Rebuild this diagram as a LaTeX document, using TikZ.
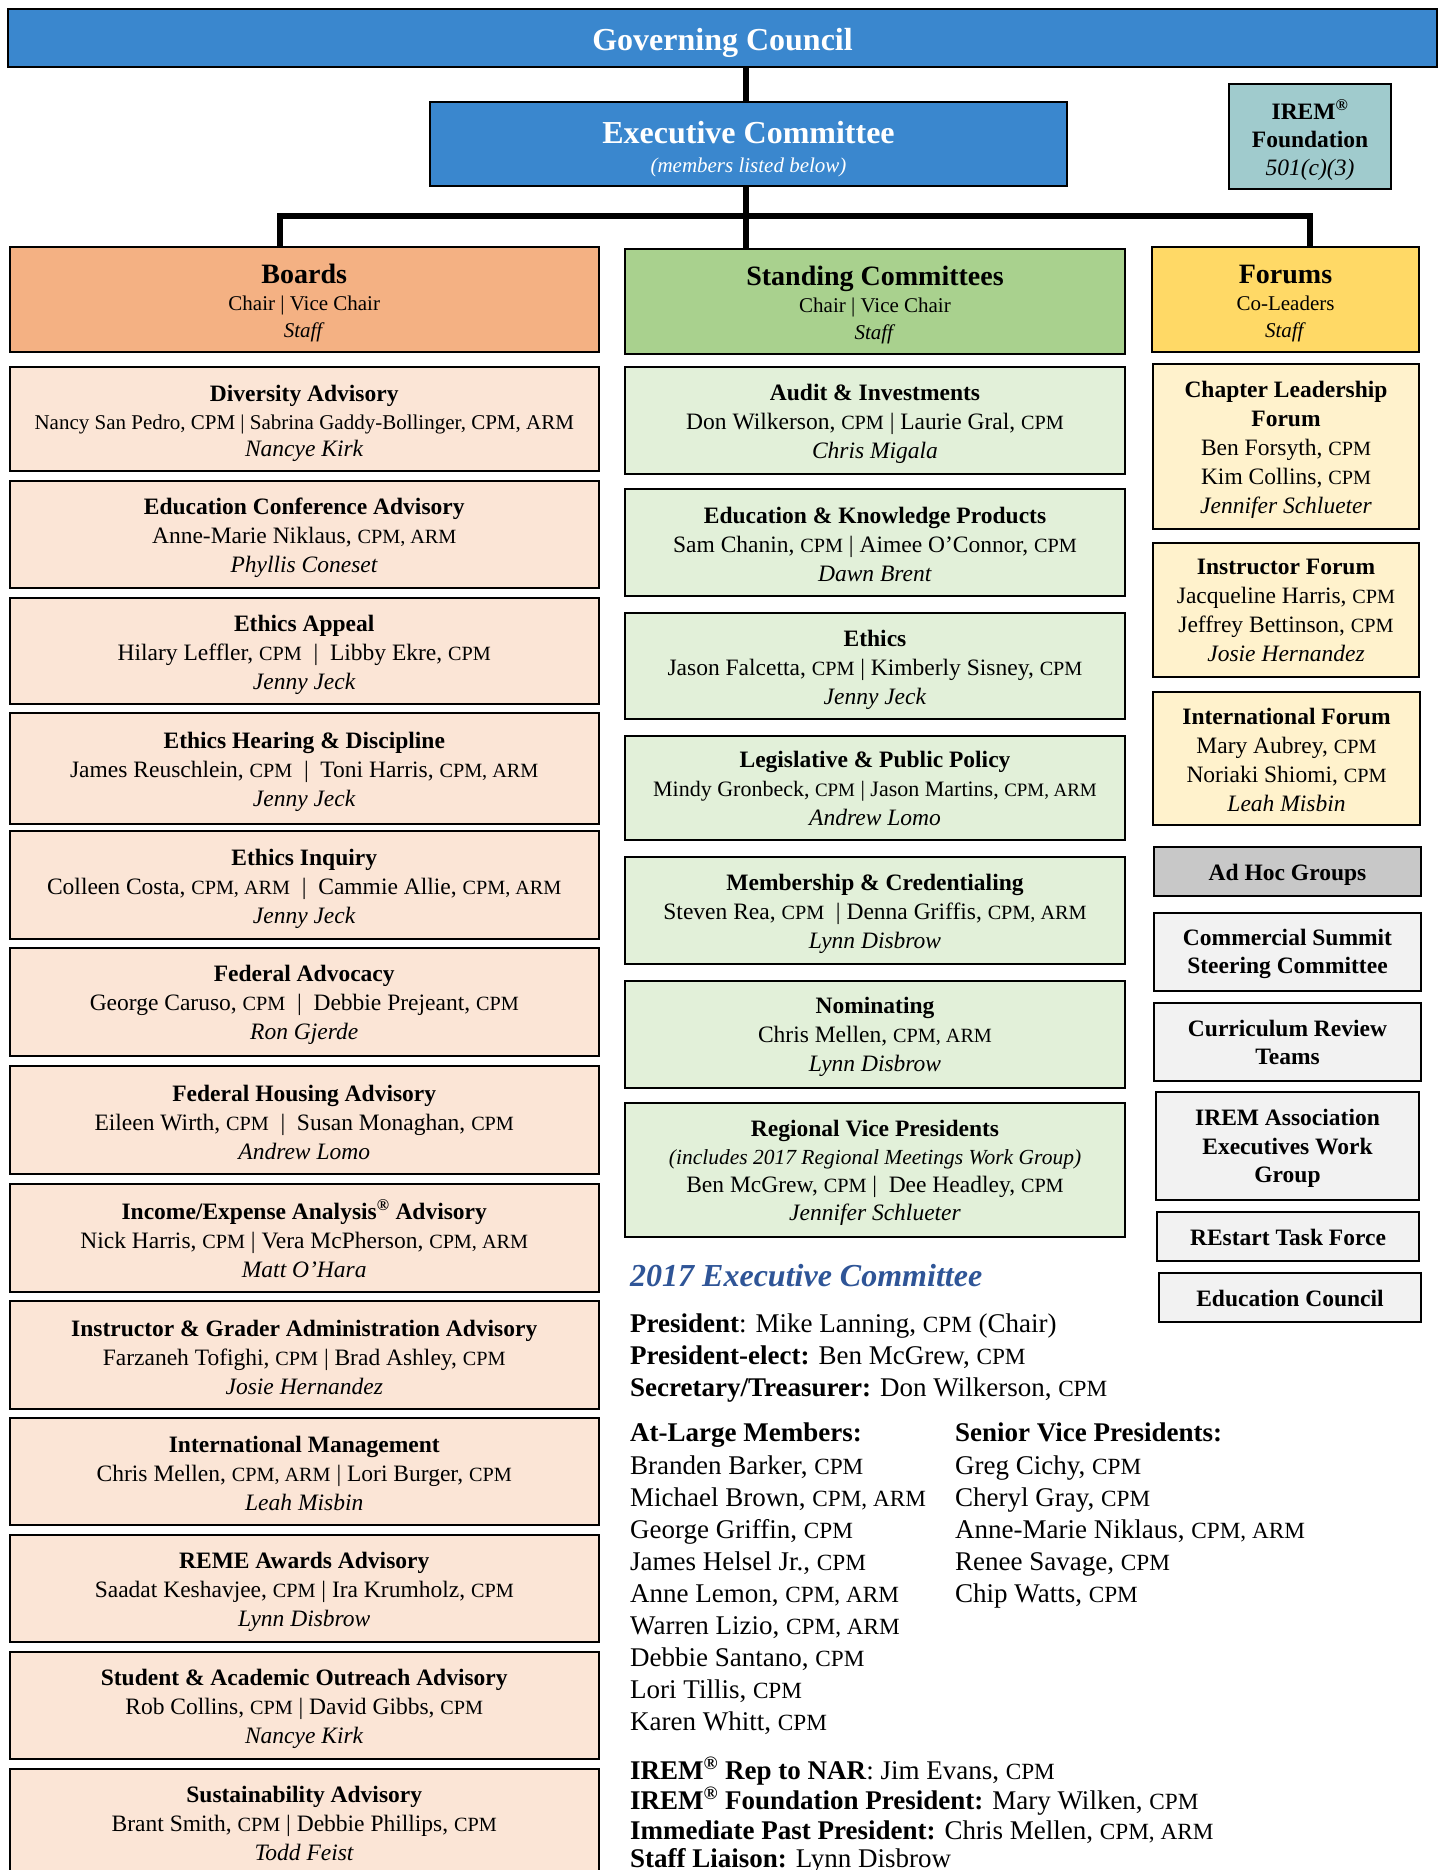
\documentclass[tikz,border=0pt]{standalone}
\usepackage{fontspec}
\setmainfont{Liberation Serif}
\makeatletter
\newcommand\lesser[1]{{\@tempdima=\f@size pt\relax\@tempdima=0.86\@tempdima\fontsize{\strip@pt\@tempdima}{\f@baselineskip}\selectfont #1}}
\makeatother
\newcommand\cpm{\lesser{CPM}}
\newcommand\cpma{\lesser{CPM, ARM}}
\newcommand\regm{\textsuperscript{®}}
\definecolor{gcblue}{RGB}{58,135,206}
\definecolor{iremc}{RGB}{160,203,205}
\definecolor{boardH}{RGB}{244,177,131}
\definecolor{boardL}{RGB}{251,229,214}
\definecolor{stH}{RGB}{169,209,142}
\definecolor{stL}{RGB}{226,240,217}
\definecolor{foH}{RGB}{255,217,102}
\definecolor{foL}{RGB}{255,242,204}
\definecolor{adH}{RGB}{200,200,200}
\definecolor{adL}{RGB}{242,242,242}
\definecolor{exblue}{RGB}{47,85,151}
% [text shift]{style}{name}{x1}{y1}{x2}{y2}{text}
\newcommand\mybox[8][3]{%
  \node[#2, minimum width={(#6-#4)*1pt}, minimum height={(#7-#5)*1pt}] (#3) at ({(#4+#6)/2},{(#5+#7)/2}) {};
  \node[#2, draw=none, fill=none, minimum width=0pt, minimum height=0pt] (#3t) at ([yshift={-(#1)*1pt}]#3.center) {#8};}
\tikzset{
  bx/.style={draw=black, line width=2pt, align=center, inner sep=0pt, text=black},
  topbox/.style={bx, fill=gcblue, text=white},
  bhead/.style={bx, fill=boardH, font=\fontsize{21}{27}\selectfont},
  shead/.style={bx, fill=stH, font=\fontsize{21}{27}\selectfont},
  fhead/.style={bx, fill=foH, font=\fontsize{21}{27}\selectfont},
  blist/.style={bx, fill=boardL, font=\fontsize{23.5}{29}\selectfont},
  slist/.style={bx, fill=stL, font=\fontsize{23.5}{29}\selectfont},
  flist/.style={bx, fill=foL, font=\fontsize{23.5}{29}\selectfont},
  adh/.style={bx, fill=adH, font=\bfseries\fontsize{23.5}{28.5}\selectfont},
  adl/.style={bx, fill=adL, font=\bfseries\fontsize{23.5}{28.5}\selectfont},
  conn/.style={line width=6pt, line join=miter, draw=black},
  exl/.style={anchor=base west, inner sep=0pt, font=\fontsize{27}{32}\selectfont},
}
\newcommand\htitle[1]{{\fontsize{28}{28}\selectfont\bfseries #1}}
\begin{document}
\begin{tikzpicture}[x=1pt,y=-1pt]
\path[use as bounding box, fill=white] (0,0) rectangle (1442,1870);
\clip (0,0) rectangle (1442,1870);

% top
\mybox[4.5]{topbox, font=\bfseries\fontsize{32}{32}\selectfont}{gc}{8}{9}{1437}{67}{Governing Council}
\mybox[5]{topbox, font=\fontsize{21}{29}\selectfont}{ec}{430}{102}{1067}{186}{{\fontsize{32}{32}\selectfont\bfseries Executive Committee}\\\textit{(members listed below)}}
\mybox[3.5]{bx, fill=iremc, font=\fontsize{23.5}{28}\selectfont}{irem}{1229}{84}{1391}{189}{\textbf{IREM\regm}\\\textbf{Foundation}\\\textit{501(c)(3)}}

% headers
\mybox[4]{bhead}{boards}{9.5}{247}{599}{352}{\htitle{Boards}\\Chair | Vice Chair\\\textit{Staff}}
\mybox[4]{shead}{sc}{625}{249}{1125}{354}{\htitle{Standing Committees}\\Chair | Vice Chair\\\textit{Staff}}
\mybox[4]{fhead}{forums}{1152}{247}{1419}{352}{\htitle{Forums}\\Co-Leaders\\\textit{Staff}}

% connectors
\coordinate (bl) at (280,216.5);
\coordinate (br) at (1310,216.5);
\coordinate (ecx) at (746,0);
\draw[conn] (gc.south -| ecx) -- (ec.north -| ecx);
\draw[conn] (ec.south -| ecx) -- (sc.north -| ecx);
\draw[conn] (bl |- boards.north) -- (bl) -- (br) -- (br |- forums.north);

% boards list
\mybox[4.5]{blist, font=\fontsize{23.5}{27.5}\selectfont}{b1}{9.5}{367}{599}{471}{\textbf{Diversity Advisory}\\{\fontsize{21}{21}\selectfont Nancy San Pedro, CPM | Sabrina Gaddy-Bollinger, CPM, ARM}\\\textit{Nancye Kirk}}
\mybox{blist}{b2}{9.5}{481}{599}{588}{\textbf{Education Conference Advisory}\\Anne-Marie Niklaus, \cpma\\\textit{Phyllis Coneset}}
\mybox[3.5]{blist}{b3}{9.5}{598}{599}{704}{\textbf{Ethics Appeal}\\Hilary Leffler, \cpm{}~~|~~Libby Ekre, \cpm\\\textit{Jenny Jeck}}
\mybox{blist}{b4}{9.5}{713}{599}{824}{\textbf{Ethics Hearing \& Discipline}\\James Reuschlein, \cpm{}~~|~~Toni Harris, \cpma\\\textit{Jenny Jeck}}
\mybox[3.5]{blist}{b5}{9.5}{831}{599}{939}{\textbf{Ethics Inquiry}\\Colleen Costa, \cpma{}~~|~~Cammie Allie, \cpma\\\textit{Jenny Jeck}}
\mybox{blist}{b6}{9.5}{948}{599}{1056}{\textbf{Federal Advocacy}\\George Caruso, \cpm{}~~|~~Debbie Prejeant, \cpm\\\textit{Ron Gjerde}}
\mybox[2]{blist}{b7}{9.5}{1066}{599}{1174}{\textbf{Federal Housing Advisory}\\Eileen Wirth, \cpm{}~~|~~Susan Monaghan, \cpm\\\textit{Andrew Lomo}}
\mybox[1]{blist}{b8}{9.5}{1184}{599}{1292}{\textbf{Income/Expense Analysis\regm{} Advisory}\\Nick Harris, \cpm{} | Vera McPherson, \cpma\\\textit{Matt O’Hara}}
\mybox[2.5]{blist}{b9}{9.5}{1301}{599}{1409}{\textbf{Instructor \& Grader Administration Advisory}\\Farzaneh Tofighi, \cpm{} | Brad Ashley, \cpm\\\textit{Josie Hernandez}}
\mybox[2]{blist}{b10}{9.5}{1418}{599}{1525}{\textbf{International Management}\\Chris Mellen, \cpma{} | Lori Burger, \cpm\\\textit{Leah Misbin}}
\mybox[3.5]{blist}{b11}{9.5}{1535}{599}{1642}{\textbf{REME Awards Advisory}\\Saadat Keshavjee, \cpm{} | Ira Krumholz, \cpm\\\textit{Lynn Disbrow}}
\mybox{blist}{b12}{9.5}{1652}{599}{1759}{\textbf{Student \& Academic Outreach Advisory}\\Rob Collins, \cpm{} | David Gibbs, \cpm\\\textit{Nancye Kirk}}
\mybox[-2]{blist}{b13}{9.5}{1769}{599}{1882}{\textbf{Sustainability Advisory}\\Brant Smith, \cpm{} | Debbie Phillips, \cpm\\\textit{Todd Feist}}

% standing committees list
\mybox{slist}{s1}{625}{367}{1125}{474}{\textbf{Audit \& Investments}\\Don Wilkerson, \cpm{} | Laurie Gral, \cpm\\\textit{Chris Migala}}
\mybox[2]{slist}{s2}{625}{489}{1125}{596}{\textbf{Education \& Knowledge Products}\\Sam Chanin, \cpm{} | Aimee O’Connor, \cpm\\\textit{Dawn Brent}}
\mybox[3.5]{slist}{s3}{625}{613}{1125}{719}{\textbf{Ethics}\\Jason Falcetta, \cpm{} | Kimberly Sisney, \cpm\\\textit{Jenny Jeck}}
\mybox[0.5]{slist}{s4}{625}{736}{1125}{840}{\textbf{Legislative \& Public Policy}\\{\fontsize{22}{22}\selectfont Mindy Gronbeck, \cpm{} | Jason Martins, \cpma}\\\textit{Andrew Lomo}}
\mybox{slist}{s5}{625}{857}{1125}{964}{\textbf{Membership \& Credentialing}\\Steven Rea, \cpm{}~~|~Denna Griffis, \cpma\\\textit{Lynn Disbrow}}
\mybox[2.5]{slist}{s6}{625}{981}{1125}{1088}{\textbf{Nominating}\\Chris Mellen, \cpma\\\textit{Lynn Disbrow}}
\mybox{slist, font=\fontsize{23.5}{28}\selectfont}{s7}{625}{1103}{1125}{1237}{\textbf{Regional Vice Presidents}\\{\fontsize{21.5}{21.5}\selectfont\itshape (includes 2017 Regional Meetings Work Group)}\\Ben McGrew, \cpm{} |~~Dee Headley, \cpm\\\textit{Jennifer Schlueter}}

% forums list
\mybox{flist}{f1}{1153}{364}{1419}{529}{\textbf{Chapter Leadership}\\\textbf{Forum}\\Ben Forsyth, \cpm\\Kim Collins, \cpm\\\textit{Jennifer Schlueter}}
\mybox[0.5]{flist}{f2}{1153}{543}{1419}{677}{\textbf{Instructor Forum}\\Jacqueline Harris, \cpm\\Jeffrey Bettinson, \cpm\\\textit{Josie Hernandez}}
\mybox[1]{flist}{f3}{1153}{692}{1420}{825}{\textbf{International Forum}\\Mary Aubrey, \cpm\\Noriaki Shiomi, \cpm\\\textit{Leah Misbin}}

% ad hoc
\mybox{adh}{a0}{1154}{847}{1421}{896}{Ad Hoc Groups}
\mybox[2]{adl}{a1}{1154}{913}{1421}{991}{Commercial Summit\\Steering Committee}
\mybox[0.5]{adl}{a2}{1154}{1003}{1421}{1081}{Curriculum Review\\Teams}
\mybox[2.5]{adl}{a3}{1156}{1092}{1419}{1200}{IREM Association\\Executives Work\\Group}
\mybox[1]{adl}{a4}{1157}{1212}{1419}{1261}{REstart Task Force}
\mybox[1]{adl}{a5}{1159}{1273}{1421}{1322}{Education Council}

% executive committee listing
\node[anchor=base west, inner sep=0pt, text=exblue, font=\bfseries\itshape\fontsize{32}{32}\selectfont] (ectitle) at (630,1286) {2017 Executive Committee};
\node[exl] (pres) at (630,1332) {\textbf{President}: Mike Lanning, \cpm{} (Chair)};
\node[exl] (prese) at (630,1364) {\textbf{President-elect:} Ben McGrew, \cpm};
\node[exl] (sect) at (630,1396) {\textbf{Secretary/Treasurer:} Don Wilkerson, \cpm};
\node[exl] (alh) at (630,1441) {\textbf{At-Large Members:}};
\node[exl] (svph) at (955,1441) {\textbf{Senior Vice Presidents:}};
\foreach \t [count=\i from 0] in {{Branden Barker, \cpm},{Michael Brown, \cpma},{George Griffin, \cpm},{James Helsel Jr., \cpm},{Anne Lemon, \cpma},{Warren Lizio, \cpma},{Debbie Santano, \cpm},{Lori Tillis, \cpm},{Karen Whitt, \cpm}}
  \node[exl] (al\i) at (630,{1474+32*\i}) {\t};
\foreach \t [count=\i from 0] in {{Greg Cichy, \cpm},{Cheryl Gray, \cpm},{Anne-Marie Niklaus, \cpma},{Renee Savage, \cpm},{Chip Watts, \cpm}}
  \node[exl] (sv\i) at (955,{1474+32*\i}) {\t};
\node[exl] (rep) at (630,1779) {\textbf{IREM\regm{} Rep to NAR}: Jim Evans, \cpm};
\node[exl] (fpres) at (630,1809) {\textbf{IREM\regm{} Foundation President:} Mary Wilken, \cpm};
\node[exl] (ipp) at (630,1839) {\textbf{Immediate Past President:} Chris Mellen, \cpma};
\node[exl] (sl) at (630,1867) {\textbf{Staff Liaison:} Lynn Disbrow};
\end{tikzpicture}
\end{document}
